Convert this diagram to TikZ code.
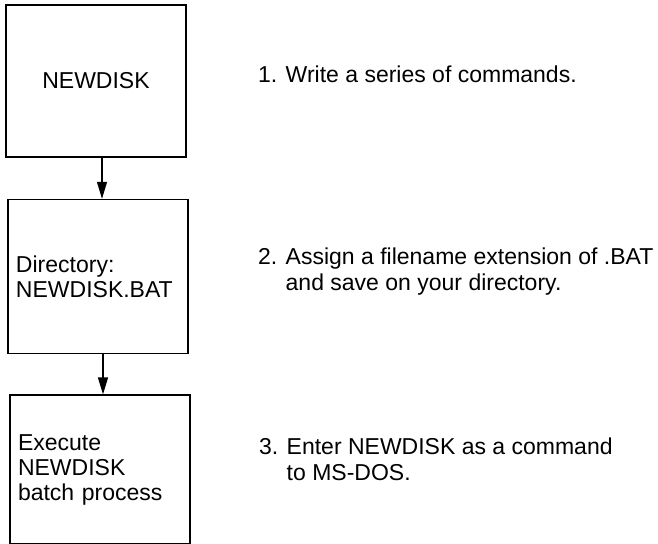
\documentclass[tikz,border=0pt]{standalone}
\usepackage{fontspec}
\setmainfont{Liberation Sans}
\usetikzlibrary{arrows.meta, positioning}
\tikzset{>={Triangle[length=17pt,width=10pt]},
    cmdbox/.style={rectangle,draw,line width=1.6pt,minimum width=180pt,
        inner xsep=8pt,font=\fontsize{23pt}{25pt}\selectfont},
    namebox/.style={cmdbox,minimum height=152pt},
    listbox/.style={cmdbox,text width=164pt,align=left},
    steptext/.style={inner sep=0pt,align=left,font=\fontsize{23pt}{26pt}\selectfont},
    flow/.style={->,line width=1.3pt}}

\begin{document}
\begin{tikzpicture}[x=1pt,y=1pt]
\useasboundingbox (0,0) rectangle (658,-543);
% boxes down the left
\node[namebox] (newdisk) at (96,-81) {NEWDISK};
\node[listbox,minimum height=154pt,below=41pt of newdisk,xshift=2pt] (batfile) {Directory:\\NEWDISK.BAT};
\node[listbox,minimum height=149pt,below=40pt of batfile,xshift=2pt] (execute) {Execute\\NEWDISK\\batch process};
% steps on the right
\node[steptext,below right=61pt and 71pt of newdisk.north east] (step1) {1. Write a series of commands.};
\node[steptext,below right=49pt and 69pt of batfile.north east] (step2) {2. Assign a filename extension of .BAT\\\hphantom{2. }and save on your directory.};
\node[steptext,below right=43pt and 68pt of execute.north east] (step3) {3. Enter NEWDISK as a command\\\hphantom{3. }to MS-DOS.};
\draw[flow] ([xshift=6pt]newdisk.south) -- ([xshift=6pt]newdisk.south |- batfile.north);
\draw[flow] ([xshift=5pt]batfile.south) -- ([xshift=5pt]batfile.south |- execute.north);
\end{tikzpicture}
\end{document}
